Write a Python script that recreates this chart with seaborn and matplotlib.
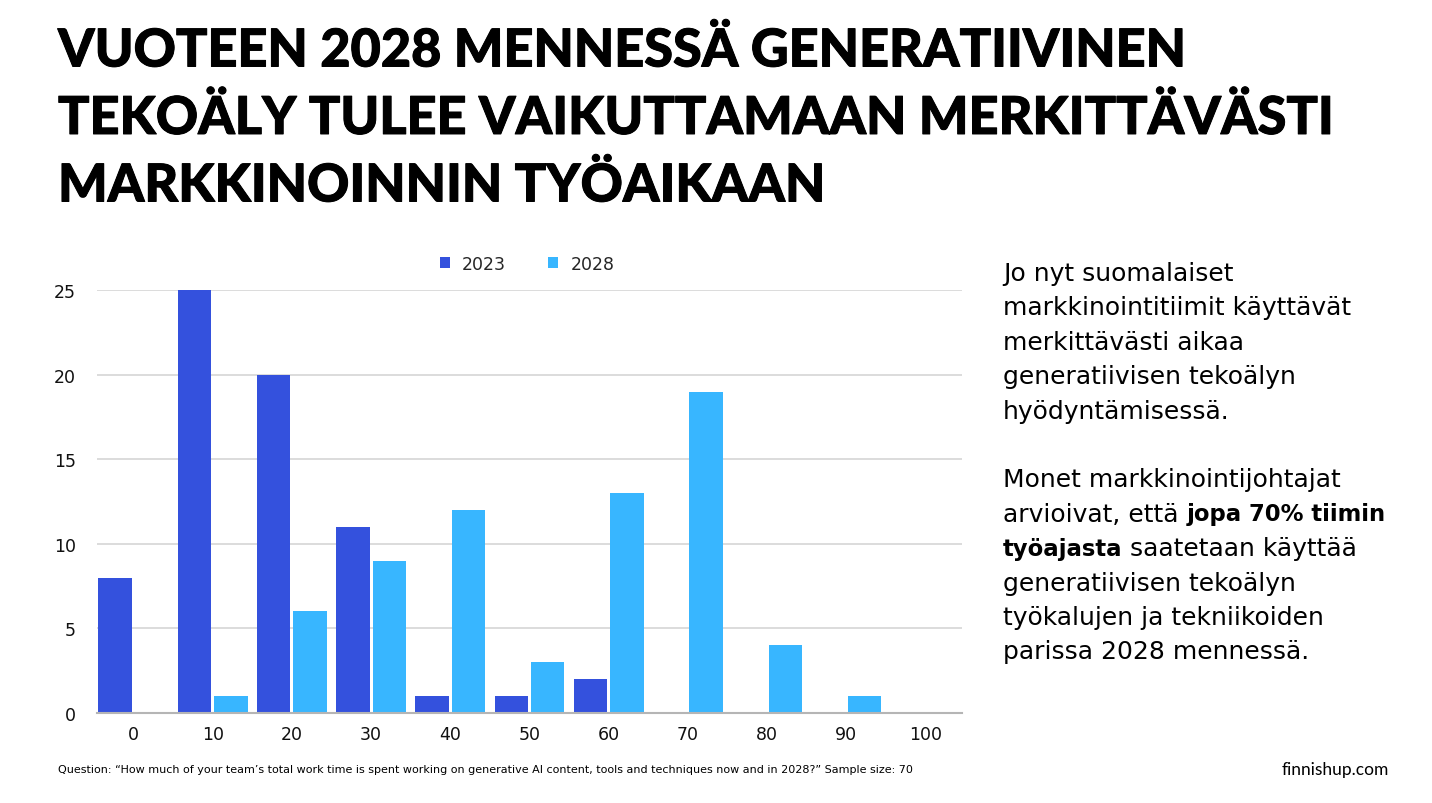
import matplotlib
matplotlib.use("Agg")
import matplotlib.pyplot as plt
import matplotlib.patheffects as pe
import seaborn as sns
import pandas as pd
from matplotlib.patches import Patch

categories = ["0", "10", "20", "30", "40", "50", "60", "70", "80", "90", "100"]
values_2023 = [8, 25, 20, 11, 1, 1, 2, 0, 0, 0, 0]
values_2028 = [0, 1, 6, 9, 12, 3, 13, 19, 4, 1, 0]
series_names = ["2023", "2028"]
colors = ["#3451DD", "#38B6FF"]

title_lines = ["VUOTEEN 2028 MENNESSÄ GENERATIIVINEN",
               "TEKOÄLY TULEE VAIKUTTAMAAN MERKITTÄVÄSTI",
               "MARKKINOINNIN TYÖAIKAAN"]
para1 = ["Jo nyt suomalaiset", "markkinointitiimit käyttävät", "merkittävästi aikaa",
         "generatiivisen tekoälyn", "hyödyntämisessä."]
para2 = [[("Monet markkinointijohtajat", "normal")],
         [("arvioivat, että ", "normal"), ("jopa 70% tiimin", "bold")],
         [("työajasta", "bold"), (" saatetaan käyttää", "normal")],
         [("generatiivisen tekoälyn", "normal")],
         [("työkalujen ja tekniikoiden", "normal")],
         [("parissa 2028 mennessä.", "normal")]]
footnote = "Question: \u201cHow much of your team\u2019s total work time is spent working on generative AI content, tools and techniques now and in 2028?\u201d Sample size: 70"
brand = "finnishup.com"

df = pd.DataFrame({
    "cat": categories * 2,
    "value": values_2023 + values_2028,
    "year": [series_names[0]] * len(categories) + [series_names[1]] * len(categories),
})

sns.set_theme(style="white")
plt.rcParams["font.family"] = ["Lato", "DejaVu Sans"]

W, H = 1432, 804
fig = plt.figure(figsize=(W / 100, H / 100), dpi=100)
ax = fig.add_axes([97 / W, 1 - 714 / H, (962 - 97) / W, (714 - 291) / H])

sns.barplot(data=df, x="cat", y="value", hue="year", order=categories,
            hue_order=series_names, palette=colors, width=0.92, gap=0.08,
            ax=ax, legend=False, linewidth=0, saturation=1)

ax.set_xlim(-0.46, len(categories) - 1 + 0.46)
ax.set_ylim(0, 25)
ax.set_yticks([0, 5, 10, 15, 20, 25])
ax.yaxis.grid(True, color="#d6d6d6", linewidth=1.2)
ax.set_axisbelow(True)
for s in ["left", "right", "top"]:
    ax.spines[s].set_visible(False)
ax.spines["bottom"].set_color("#b5b5b5")
ax.spines["bottom"].set_linewidth(1.5)
ax.set_xlabel("")
ax.set_ylabel("")
ax.tick_params(axis="both", length=0, labelsize=12.5, colors="#111111")
ax.tick_params(axis="y", pad=15)
ax.tick_params(axis="x", pad=9)
for lab in ax.get_xticklabels() + ax.get_yticklabels():
    lab.set_fontfamily("DejaVu Sans")

# legend
handles = [Patch(facecolor=c, edgecolor="none") for c in colors]
fig.legend(handles, series_names, loc="center", bbox_to_anchor=(527 / W, 1 - 265 / H),
           ncol=2, frameon=False, handlelength=0.6, handleheight=0.6,
           columnspacing=2.4, handletextpad=0.7,
           prop={"family": "DejaVu Sans", "size": 12.5})

# title
for i, line in enumerate(title_lines):
    fig.text(58 / W, 1 - (53 + i * 67.5) / H, line, fontsize=37.6, fontweight=900,
             color="black", va="center", ha="left", family="Lato",
             path_effects=[pe.withStroke(linewidth=0.7, foreground="black")])

# right text
fs = 18
lh = 34.4
y = 274
for line in para1:
    fig.text(1003 / W, 1 - y / H, line, fontsize=fs, va="center", ha="left",
             color="black", family="DejaVu Sans")
    y += lh
y += lh
fig.canvas.draw()
renderer = fig.canvas.get_renderer()
for runs in para2:
    xpx = 1003
    for txt, wgt in runs:
        size = fs if wgt == "normal" else 16.4
        t = fig.text(xpx / W, 1 - y / H, txt, fontsize=size, va="center", ha="left",
                     color="black", fontweight=wgt, family="DejaVu Sans")
        bb = t.get_window_extent(renderer=renderer)
        xpx += bb.width
    y += lh

fig.text(58 / W, 1 - 770 / H, footnote, fontsize=8, va="center", ha="left",
         family=["Liberation Sans Narrow", "DejaVu Sans"], color="black")
fig.text(1389 / W, 1 - 770 / H, brand, fontsize=12.5, va="center", ha="right",
         color="black", family="Lato")

fig.savefig("out.png", dpi=100)
